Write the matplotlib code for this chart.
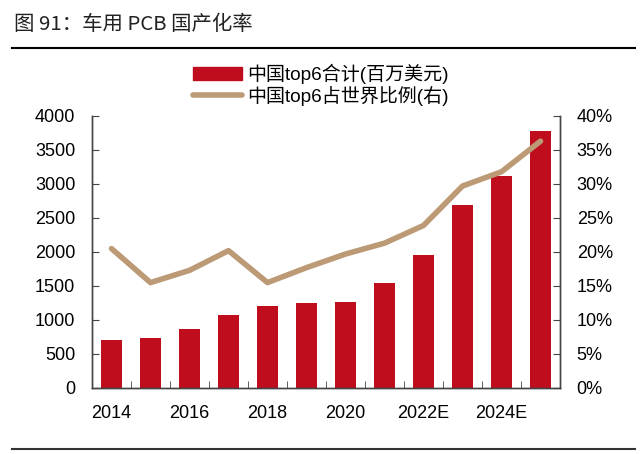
import numpy as np
import matplotlib.pyplot as plt
from matplotlib.lines import Line2D

plt.rcParams['font.family'] = ['Liberation Sans', 'Noto Sans CJK SC', 'DejaVu Sans']

# dados
anos = ['2014', '2015', '2016', '2017', '2018', '2019', '2020', '2021',
        '2022E', '2023E', '2024E', '2025E']
valores = [710, 740, 870, 1070, 1200, 1250, 1265, 1540, 1960, 2690, 3120, 3780]
proporcao = [20.5, 15.5, 17.3, 20.2, 15.5, 17.7, 19.7, 21.3, 23.9, 29.7, 31.8, 36.3]

vermelho = '#C00D1E'
bege = '#BB9A75'

fig = plt.figure(figsize=(6.4, 4.54), dpi=100)
ax = fig.add_axes([92/640, 1 - 388/454, 468/640, 272/454])

x = np.arange(len(anos))
ax.bar(x, valores, width=0.52, color=vermelho, zorder=2)
ax.set_xlim(-0.5, len(anos) - 0.5)
ax.set_ylim(0, 4000)
ax.set_yticks(np.arange(0, 4001, 500))

ax2 = ax.twinx()
ax2.plot(x, proporcao, color=bege, linewidth=4, solid_capstyle='round', zorder=3)
ax2.set_ylim(0, 40)
ax2.set_yticks(np.arange(0, 41, 5))
ax2.set_yticklabels([str(v) + '%' for v in range(0, 41, 5)])

# rotulos do eixo x so nos anos pares
ax.set_xticks(x[::2])
ax.set_xticklabels(anos[::2])
ax.set_xticks(np.arange(0.5, len(anos) - 1, 1), minor=True)
ax.tick_params(axis='x', which='major', length=0, pad=12, labelsize=13)
ax.tick_params(axis='x', which='minor', direction='in', length=5, color='#444444')
ax.tick_params(axis='y', direction='in', length=5, labelsize=13, pad=12, color='#444444')
ax2.tick_params(axis='y', direction='in', length=5, labelsize=13, pad=12, color='#444444')

for a in (ax, ax2):
    a.spines['top'].set_visible(False)
    for s in ('left', 'right', 'bottom'):
        a.spines[s].set_color('#444444')
        a.spines[s].set_linewidth(1)

# legenda
handles = [plt.Rectangle((0, 0), 1, 1, color=vermelho),
           Line2D([0], [0], color=bege, linewidth=4, solid_capstyle='round')]
labels = ['中国top6合计(百万美元)', '中国top6占世界比例(右)']
fig.legend(handles, labels, loc='upper left', bbox_to_anchor=(193/640, 1 - 64/454),
           frameon=False, fontsize=13.7, borderpad=0, borderaxespad=0,
           handlelength=2.6, handleheight=0.73, handletextpad=0.26, labelspacing=0.1)

# titulo e linhas
fig.text(14/640, 1 - 25/454, '图 91：车用 PCB 国产化率', fontsize=14.7,
         family=['Noto Sans CJK SC', 'DejaVu Sans'], va='center', ha='left', color='#222222')
fig.add_artist(Line2D([12/640, 635/640], [1 - 48/454, 1 - 48/454], color='black', linewidth=1.5))
fig.add_artist(Line2D([12/640, 635/640], [1 - 449/454, 1 - 449/454], color='#333333', linewidth=1.5))

fig.savefig('out.png', dpi=100)
